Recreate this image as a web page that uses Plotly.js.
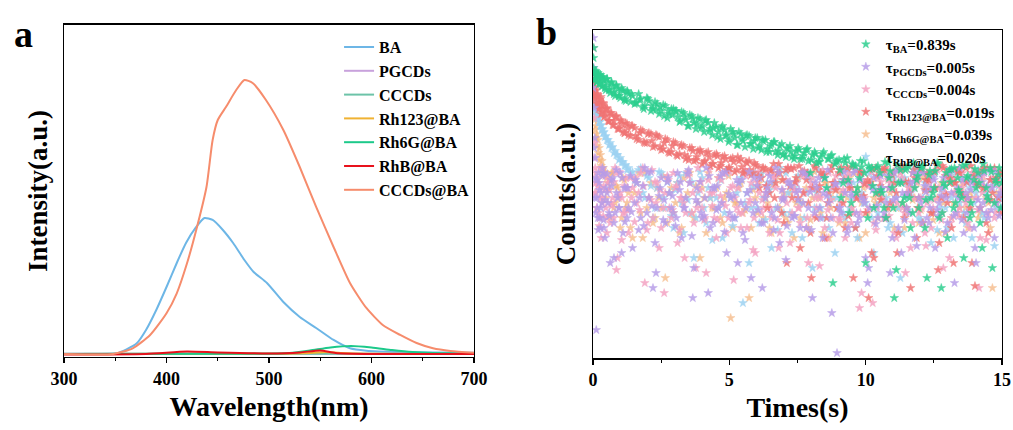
<!DOCTYPE html>
<html><head><meta charset="utf-8">
<script src="https://cdn.plot.ly/plotly-3.0.1.min.js"></script>
<style>html,body{margin:0;padding:0;background:#fff}#chart{width:1013px;height:430px}</style>
</head><body><div id="chart"></div>
<script>
// ---------- Panel a: PL spectra ----------
const wlBA = [300,335,351,361,371,380,390,400,410,419,429,437,445,455,465,476,485,498,514,530,546,563,579,595,628,700];
const intBA = [0,0,0.7,4.7,10.7,24,44,67,91,111,127,136,134,124,111,94,82,71,52,37,26,14,5.7,3.3,2,1.3];
const wlFlat = [300,400,500,600,700];
const intPGCDs = [0.2,0.2,0.2,0.2,0.2];
const intCCCDs = [0.3,0.3,0.3,0.3,0.3];
const wlRh123 = [300,500,540,555,570,600,700];
const intRh123 = [0,0.2,1,2,1,0.3,0];
const wlRh6G = [300,500,520,540,560,580,600,620,640,660,700];
const intRh6G = [0,0.3,1,3.5,6.5,8,6.5,4,2,1,0.5];
const wlRhB = [300,380,420,450,500,530,550,565,600,700];
const intRhB = [-0.5,0,2.5,1.5,0.5,1.5,3.5,1,0,0];
const wlCCCDsBA = [300,348,367,384,400,410,420,429,439,445,450,458,468,476,484,497,514,530,546,563,579,595,611,628,644,660,677,700];
const intCCCDsBA = [0,0,5.7,19,40.7,60.7,90.7,124,167,214,234,247,264,274,271,254,224,187,147,107,71,46,29,19,11,5.7,3,1.3];

// ---------- Panel b: decay curves (interleaved sampling passes) ----------
const timeS = [
 0.02,0.05,0.08,0.12,0.16,0.2,0.25,0.3,0.35,0.4,
 0.47,0.55,0.63,0.72,0.81,0.9,1.0,1.1,1.2,1.3,
 1.45,1.6,1.75,1.9,2.05,2.2,2.35,2.5,2.65,2.8,
 2.95,3.1,3.25,3.4,3.55,3.7,3.85,4.0,4.15,4.3,
 4.45,4.6,4.75,4.9,5.05,5.2,5.35,5.5,5.65,5.8,
 5.95,6.1,6.25,6.4,6.55,6.7,6.85,7.0,7.15,7.3,
 7.45,7.6,7.75,7.9,8.05,8.2,8.35,8.5,8.65,8.8,
 8.95,9.1,9.25,9.4,9.55,9.7,9.85,10.0,10.15,10.3,
 10.45,10.6,10.75,10.9,11.05,11.2,11.35,11.5,11.65,11.8,
 11.95,12.1,12.25,12.4,12.55,12.7,12.85,13.0,13.15,13.3,
 13.45,13.6,13.75,13.9,14.05,14.2,14.35,14.5,14.65,14.8,
 14.95];
const timeS2 = [
 0.03,0.065,0.1,0.14,0.18,0.225,0.275,0.325,0.375,0.435,
 0.51,0.59,0.675,0.765,0.855,0.95,1.05,1.15,1.25,1.375,
 1.525,1.675,1.825,1.975,2.125,2.275,2.425,2.575,2.725,2.875,
 3.025,3.175,3.325,3.475,3.625,3.775,3.925,4.075,4.225,4.375,
 4.525,4.675,4.825,4.975,5.125,5.275,5.425,5.575,5.725,5.875,
 6.025,6.175,6.325,6.475,6.625,6.775,6.925,7.075,7.225,7.375,
 7.525,7.675,7.825,7.975,8.125,8.275,8.425,8.575,8.725,8.875,
 9.025,9.175,9.325,9.475,9.625,9.775,9.925,10.075,10.225,10.375,
 10.525,10.675,10.825,10.975,11.125,11.275,11.425,11.575,11.725,11.875,
 12.025,12.175,12.325,12.475,12.625,12.775,12.925,13.075,13.225,13.375,
 13.525,13.675,13.825,13.975,14.125,14.275,14.425,14.575,14.725,14.875,
 14.99];
const timeS3 = [
 0.01,0.04,0.07,0.105,0.145,0.19,0.24,0.29,0.34,0.39,
 0.45,0.52,0.6,0.68,0.77,0.86,0.96,1.06,1.17,1.27,
 1.41,1.56,1.71,1.86,2.01,2.16,2.31,2.46,2.61,2.76,
 2.91,3.06,3.21,3.36,3.51,3.66,3.81,3.96,4.11,4.26,
 4.41,4.56,4.71,4.86,5.01,5.16,5.31,5.46,5.61,5.76,
 5.91,6.06,6.21,6.36,6.51,6.66,6.81,6.96,7.11,7.26,
 7.41,7.56,7.71,7.86,8.01,8.16,8.31,8.46,8.61,8.76,
 8.91,9.06,9.21,9.36,9.51,9.66,9.81,9.96,10.11,10.26,
 10.41,10.56,10.71,10.86,11.01,11.16,11.31,11.46,11.61,11.76,
 11.91,12.06,12.21,12.36,12.51,12.66,12.81,12.96,13.11,13.26,
 13.41,13.56,13.71,13.86,14.01,14.16,14.31,14.46,14.61,14.76,
 14.9];

const cntBA = [
 300,285,279,286,277,283,275,281,272,278,
 268,275,265,272,262,269,260,267,257,264,
 262,255,259,252,257,249,254,247,252,244,
 249,241,246,238,243,235,240,232,238,229,
 235,226,232,223,229,220,226,217,223,214,
 220,212,217,209,214,206,212,204,209,201,
 207,199,205,197,203,195,201,180,199,75,
 197,160,195,145,193,170,191,95,189,150,
 192,165,140,187,60,175,155,190,130,170,
 150,192,80,160,187,140,175,120,189,155,
 165,100,182,145,170,135,187,158,90,175,
 150];
const cntBA2 = [
 310,278,287,276,285,274,283,272,281,270,
 279,268,276,264,273,262,270,258,267,256,
 254,264,251,260,247,256,244,253,240,249,
 247,236,245,232,242,229,239,226,235,223,
 231,219,228,216,226,213,224,211,222,209,
 220,208,218,206,216,203,214,201,212,199,
 210,199,208,185,206,196,204,170,202,194,
 198,175,200,155,192,180,197,140,190,165,
 185,150,195,170,88,188,160,192,145,178,
 190,130,183,165,195,70,172,188,150,180,
 160,193,140,178,185,110,170,190,155,183,
 175];
const cntBA3 = [
 290,284,279,283,276,282,281,274,280,278,
 271,279,268,275,266,272,262,268,259,266,
 264,255,258,249,259,252,248,251,242,247,
 243,247,237,241,232,239,234,230,237,227,
 230,221,230,222,218,224,213,219,222,214,
 217,210,218,206,212,216,207,203,210,206,
 202,208,202,209,198,204,196,206,199,203,
 196,188,199,178,194,165,197,185,192,172,
 190,168,196,180,150,193,175,188,160,195,
 182,191,158,187,170,194,145,185,176,190,
 168,192,180,155,189,175,194,162,186,178,
 190];
const cntPGCDs = [
 320,250,200,28,150,185,140,165,190,130,
 170,155,95,180,145,160,185,125,170,150,
 110,175,140,190,160,70,150,180,135,165,
 145,185,120,160,175,90,155,140,190,130,
 170,150,185,105,160,140,175,125,165,80,
 155,180,135,170,145,190,115,160,175,140,
 165,130,185,150,60,170,140,180,155,125,
 5,145,165,175,185,135,160,100,150,180,
 140,170,155,85,185,130,165,150,175,120,
 160,185,140,170,110,155,180,135,165,145,
 190,125,160,175,95,150,185,140,170,155,
 165];
const cntPGCDs2 = [
 290,220,180,160,140,175,130,155,185,120,
 165,145,178,135,188,150,105,170,140,182,
 155,128,172,145,186,115,162,138,176,150,
 132,168,150,184,122,158,176,142,65,170,
 148,182,126,164,140,178,155,118,186,145,
 172,135,160,182,128,150,168,98,176,142,
 158,186,130,166,145,180,120,162,140,174,
 150,178,125,165,188,140,158,75,172,134,
 168,145,182,120,160,176,138,165,185,112,
 155,172,135,180,148,162,126,185,142,170,
 138,165,180,130,158,176,145,188,120,162,
 150];
const cntPGCDs3 = [
 270,210,160,145,178,128,168,150,182,138,
 158,184,142,172,100,165,150,180,136,170,
 146,178,160,132,186,152,85,170,158,180,
 162,140,176,150,188,60,170,145,160,182,
 135,172,155,186,145,162,95,178,150,168,
 180,148,70,165,176,140,185,158,132,172,
 142,168,155,182,128,175,150,165,188,45,
 174,150,186,130,162,145,178,155,90,168,
 152,182,140,170,158,188,105,162,145,176,
 184,135,166,150,178,142,170,160,188,75,
 160,178,145,168,110,182,155,172,148,186,
 142];
const cntCCCDs = [
 310,240,190,165,180,145,170,120,160,185,
 150,175,135,160,190,100,165,145,180,125,
 170,155,185,75,160,140,175,130,165,150,
 185,115,160,145,175,135,190,150,85,165,
 140,180,155,125,170,160,145,185,130,175,
 105,165,150,185,140,170,125,160,190,145,
 175,135,165,95,180,150,160,130,185,140,
 170,155,120,185,145,165,65,175,150,135,
 180,160,140,175,125,190,150,165,110,170,
 145,185,155,130,170,160,90,180,140,165,
 150,175,135,185,160,120,170,145,180,155,
 170];
const cntCCCDs2 = [
 280,215,175,150,172,132,160,188,142,168,
 125,178,155,140,185,162,118,172,148,180,
 136,165,190,128,158,176,110,150,182,140,
 170,128,155,186,145,90,168,138,178,152,
 120,162,184,140,172,150,130,188,155,108,
 176,145,165,125,182,138,160,178,115,168,
 150,185,130,170,142,162,188,120,158,175,
 140,168,182,135,160,50,175,148,186,128,
 165,140,178,155,120,185,145,170,135,180,
 160,125,175,150,188,138,165,100,178,145,
 170,155,130,185,148,165,118,178,140,160,
 185];
const cntCCCDs3 = [
 265,200,165,185,150,175,140,190,155,172,
 182,140,168,152,176,88,186,160,145,170,
 160,180,148,172,135,188,155,168,65,178,
 148,172,160,100,182,165,150,176,140,188,
 165,138,178,152,186,78,170,145,182,158,
 140,186,158,172,150,180,110,168,155,190,
 168,150,182,140,175,160,92,185,148,170,
 182,138,165,176,150,188,145,160,172,55,
 150,176,188,142,168,155,180,85,170,160,
 176,150,112,182,158,170,145,188,135,166,
 142,185,160,148,176,70,182,158,170,145,
 176];
const cntRh123 = [
 275,262,268,255,261,249,256,244,252,241,
 249,237,245,233,241,229,238,226,235,223,
 232,219,228,215,225,211,222,208,219,205,
 216,202,213,199,210,197,207,194,205,192,
 203,190,201,188,199,186,197,185,195,183,
 193,170,190,150,188,175,185,135,190,160,
 180,110,187,155,170,140,185,120,165,175,
 150,190,130,170,80,160,185,145,175,100,
 165,188,140,155,175,125,190,150,70,180,
 160,135,185,145,170,115,190,155,130,175,
 185,140,160,95,175,150,190,125,165,180,
 145];
const cntRh1232 = [
 271,259,267,254,263,250,259,246,255,242,
 250,237,245,233,241,229,237,225,234,222,
 230,218,227,215,224,212,221,209,218,206,
 215,204,212,201,210,198,208,196,206,194,
 204,192,202,190,200,188,199,186,197,185,
 192,180,189,165,194,185,145,188,172,190,
 160,186,178,125,192,168,182,140,188,175,
 185,155,190,170,130,186,162,178,105,190,
 172,188,150,183,165,190,140,176,185,120,
 188,168,178,145,192,160,182,175,95,186,
 165,190,150,182,172,188,135,178,190,160,
 183];
const cntRh1233 = [
 270,262,270,262,264,253,258,261,249,254,
 245,249,237,243,237,242,230,234,225,230,
 232,222,225,216,224,217,223,211,215,206,
 212,203,212,203,198,207,201,206,197,201,
 194,202,195,199,190,196,201,191,196,188,
 195,182,190,172,187,160,194,178,95,189,
 176,192,165,185,80,190,172,183,155,192,
 168,188,178,142,191,160,185,174,60,189,
 182,158,190,170,186,105,192,176,165,188,
 150,190,178,168,186,88,192,163,180,175,
 188,162,176,192,72,184,170,190,158,178,
 186];
const cntRh6G = [
 250,238,228,220,212,205,198,192,188,183,
 160,175,140,185,155,170,130,180,150,165,
 120,175,145,185,160,135,170,150,80,165,
 145,175,130,160,185,140,155,170,125,160,
 150,180,135,165,40,155,170,145,185,130,
 160,175,140,155,125,180,150,165,135,170,
 155,140,185,130,160,170,145,175,120,160,
 150,165,135,180,145,170,155,125,175,160,
 140,185,150,165,130,175,155,145,170,160,
 135,180,160,145,170,125,155,185,140,165,
 150,175,130,160,185,145,170,155,70,165,
 160];
const cntRh6G2 = [
 247,240,232,224,218,210,203,197,190,186,
 180,168,185,150,172,160,140,178,155,130,
 165,185,120,150,175,140,160,182,135,170,
 155,125,180,165,145,172,100,160,185,150,
 170,140,160,182,130,155,175,148,60,168,
 145,185,160,130,172,150,178,140,165,120,
 180,155,170,138,186,160,125,175,150,168,
 135,178,160,150,185,120,170,145,176,155,
 162,140,180,170,150,186,130,165,158,175,
 148,170,185,138,160,175,125,182,155,168,
 172,150,165,185,140,178,160,130,175,150,
 165];
const cntRhB = [
 262,255,250,246,243,240,236,233,229,226,
 222,218,215,211,207,203,200,196,193,190,
 186,175,190,160,180,140,170,185,150,165,
 130,175,155,185,145,100,165,180,135,160,
 170,150,120,185,160,140,175,55,165,150,
 185,135,160,175,110,150,190,145,165,125,
 175,155,140,185,90,165,150,180,130,170,
 160,185,140,150,175,120,165,155,185,105,
 145,170,160,135,180,150,125,175,165,190,
 140,160,175,115,185,150,170,130,160,185,
 155,145,175,120,165,185,140,160,175,150,
 180];
const cntRhB2 = [
 258,252,247,243,240,236,232,228,225,221,
 218,213,210,205,203,198,196,192,188,185,
 178,188,165,182,172,150,186,160,176,142,
 168,182,125,158,176,140,186,150,170,118,
 160,178,145,188,132,165,180,155,95,172,
 150,184,138,168,176,128,160,185,145,170,
 182,120,165,178,150,188,140,170,160,105,
 175,145,188,160,130,178,155,186,140,168,
 155,185,130,172,160,80,180,148,170,188,
 138,175,160,185,128,168,150,182,120,162,
 180,135,170,155,188,145,165,178,112,172,
 158];

const spectra = [
 {name:'BA', x:wlBA, y:intBA, color:'#6db6e6'},
 {name:'PGCDs', x:wlFlat, y:intPGCDs, color:'#c8a2dc'},
 {name:'CCCDs', x:wlFlat, y:intCCCDs, color:'#6cc3a8'},
 {name:'Rh123@BA', x:wlRh123, y:intRh123, color:'#f0b232'},
 {name:'Rh6G@BA', x:wlRh6G, y:intRh6G, color:'#1cc98a'},
 {name:'RhB@BA', x:wlRhB, y:intRhB, color:'#e8121c'},
 {name:'CCCDs@BA', x:wlCCCDsBA, y:intCCCDsBA, color:'#f68c6c'}
];
const t12 = timeS.concat(timeS2);
const t123 = timeS.concat(timeS2, timeS3);
// rank = legend position; array order = drawing order
const decays = [
 {name:'τ<sub>Rh6G@BA</sub>=0.039s', x:t12, y:cntRh6G.concat(cntRh6G2), color:'#f5b27a', rank:5, op:0.7},
 {name:'τ<sub>RhB@BA</sub>=0.020s', x:t12, y:cntRhB.concat(cntRhB2), color:'#9dd2f2', rank:6, op:0.85},
 {name:'τ<sub>CCCDs</sub>=0.004s', x:t123, y:cntCCCDs.concat(cntCCCDs2, cntCCCDs3), color:'#f4a3c3', rank:3, op:0.85},
 {name:'τ<sub>Rh123@BA</sub>=0.019s', x:t123, y:cntRh123.concat(cntRh1232, cntRh1233), color:'#f07474', rank:4, op:0.85},
 {name:'τ<sub>PGCDs</sub>=0.005s', x:t123, y:cntPGCDs.concat(cntPGCDs2, cntPGCDs3), color:'#b79de8', rank:2, op:0.85},
 {name:'τ<sub>BA</sub>=0.839s', x:t123, y:cntBA.concat(cntBA2, cntBA3), color:'#2ccf8f', rank:1, op:0.85}
];

const FONT = 'Liberation Serif, Times New Roman, serif';
const traces = [];
spectra.forEach(s => traces.push({
  type:'scatter', mode:'lines', x:s.x, y:s.y, name:s.name,
  line:{color:s.color, width:2, shape:'spline', smoothing:0.6},
  xaxis:'x', yaxis:'y', legend:'legend'
}));
decays.forEach(d => traces.push({
  type:'scatter', mode:'markers', x:d.x, y:d.y, name:d.name, legendrank:d.rank,
  marker:{symbol:'star', size:6.5, color:d.color, opacity:d.op, line:{width:0.5, color:d.color}},
  xaxis:'x2', yaxis:'y2', legend:'legend2'
}));

const tickFont = {family:FONT, size:18, color:'#000', weight:'bold'};
const xTitleFont = {family:FONT, size:28, color:'#000', weight:'bold'};
const yTitleFont = {family:FONT, size:27, color:'#000', weight:'bold'};
const axBase = {showline:true, linecolor:'#000', linewidth:1.5, mirror:true, showgrid:false, zeroline:false};

const layout = {
  width:1013, height:430, margin:{l:0,r:0,t:0,b:0},
  paper_bgcolor:'#fff', plot_bgcolor:'#fff',
  font:{family:FONT, color:'#000'},
  showlegend:true,
  xaxis:Object.assign({}, axBase, {
    domain:[0.0632,0.4679], range:[300,700], dtick:100, tick0:300,
    ticks:'outside', ticklen:5, tickwidth:1.5, tickcolor:'#000', tickfont:tickFont,
    minor:{ticks:'outside', ticklen:3, tickwidth:1.2, dtick:50, tickcolor:'#000'},
    title:{text:'Wavelength(nm)', font:xTitleFont, standoff:8}, anchor:'y'
  }),
  yaxis:Object.assign({}, axBase, {
    domain:[0.1698,0.9419], range:[-3,329], showticklabels:false, ticks:'',
    title:{text:'Intensity(a.u.)', font:yTitleFont, standoff:7}, anchor:'x'
  }),
  xaxis2:Object.assign({}, axBase, {
    domain:[0.5854,0.9891], range:[0,15], dtick:5, tick0:0,
    ticks:'outside', ticklen:5, tickwidth:1.5, tickcolor:'#000', tickfont:tickFont,
    minor:{ticks:'outside', ticklen:3, tickwidth:1.2, dtick:2.5, tickcolor:'#000'},
    title:{text:'Times(s)', font:xTitleFont, standoff:8}, anchor:'y2'
  }),
  yaxis2:Object.assign({}, axBase, {
    domain:[0.1674,0.9302], range:[0,328], showticklabels:false, ticks:'',
    title:{text:'Counts(a.u.)', font:yTitleFont, standoff:8}, anchor:'x2'
  }),
  legend:{x:0.3347, y:0.93, xanchor:'left', yanchor:'top', bgcolor:'rgba(0,0,0,0)',
    font:{family:FONT, size:16, color:'#000', weight:'bold'}, itemwidth:30, tracegroupgap:0},
  legend2:{x:0.835, y:0.935, xanchor:'left', yanchor:'top', bgcolor:'rgba(0,0,0,0)',
    font:{family:FONT, size:15, color:'#000', weight:'bold'}, itemwidth:30, tracegroupgap:0},
  annotations:[
    {text:'a', x:0.012, y:0.975, xref:'paper', yref:'paper', xanchor:'left', yanchor:'top', showarrow:false,
     font:{family:FONT, size:38, color:'#000', weight:'bold'}},
    {text:'b', x:0.527, y:0.98, xref:'paper', yref:'paper', xanchor:'left', yanchor:'top', showarrow:false,
     font:{family:FONT, size:38, color:'#000', weight:'bold'}}
  ]
};
Plotly.newPlot('chart', traces, layout, {displayModeBar:false, staticPlot:true});
</script></body></html>
